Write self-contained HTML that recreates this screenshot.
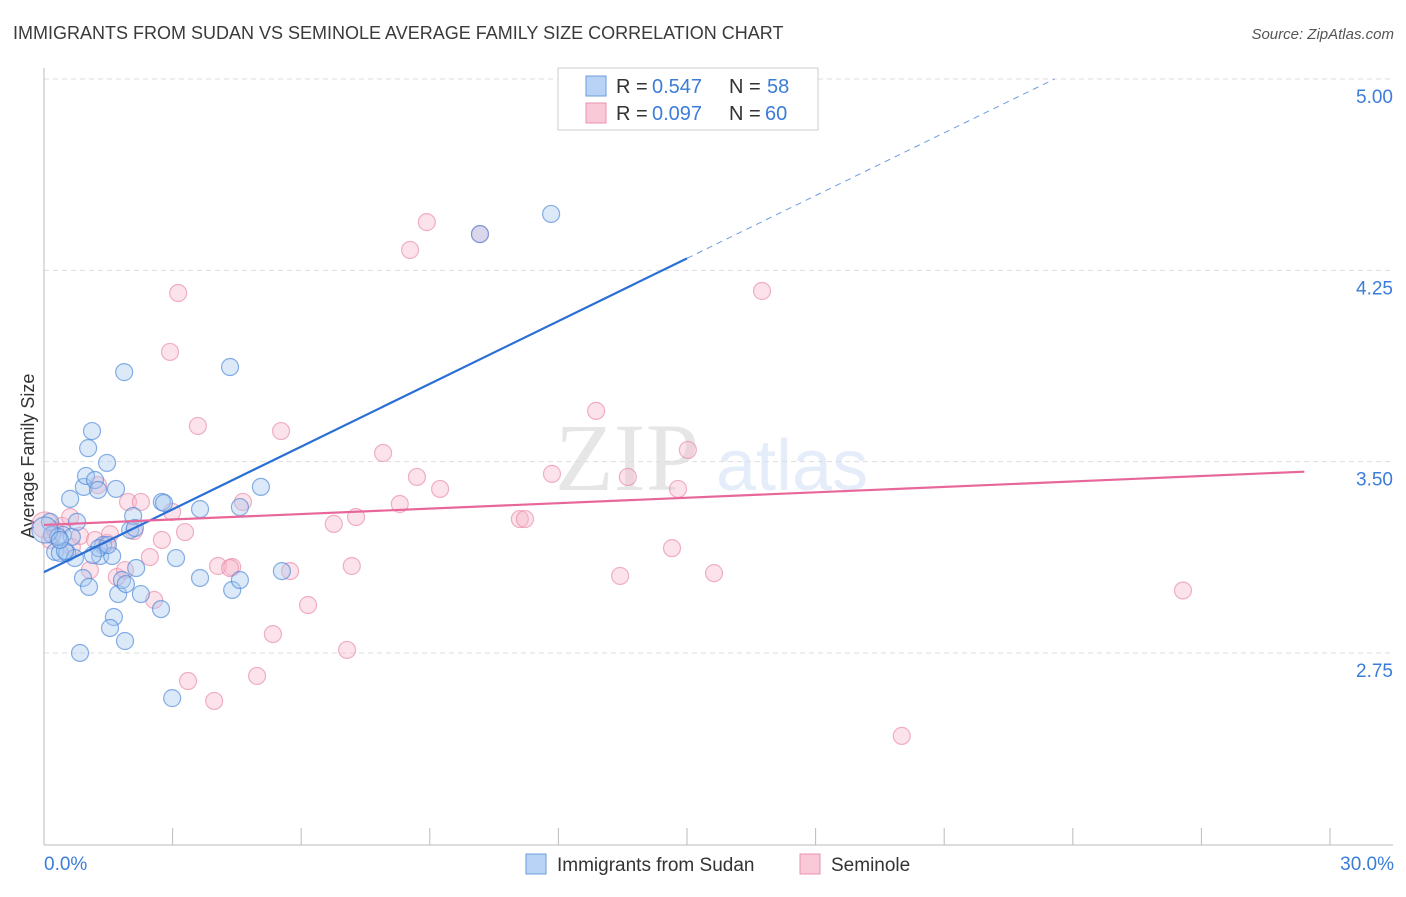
<!DOCTYPE html>
<html><head><meta charset="utf-8"><style>
body{margin:0;background:#fff;font-family:"Liberation Sans",sans-serif}
</style></head><body>
<svg id="chart" width="1406" height="892" xmlns="http://www.w3.org/2000/svg" font-family="Liberation Sans, sans-serif">
<text x="13" y="39" font-size="18" fill="#3a3a3a">IMMIGRANTS FROM SUDAN VS SEMINOLE AVERAGE FAMILY SIZE CORRELATION CHART</text>
<text x="1394" y="39" font-size="15" fill="#555" font-style="italic" text-anchor="end">Source: ZipAtlas.com</text>
<g opacity="0.13"><text x="555" y="490" font-size="96" font-family="Liberation Serif, serif" fill="#444">ZIP</text><text x="716" y="490" font-size="72" fill="#3b7dd8">atlas</text></g>
<g id="grid"></g><g id="axes"></g>
<text transform="translate(34,456) rotate(-90)" font-size="18" fill="#333" text-anchor="middle">Average Family Size</text>
<g id="marks"></g>
<g>
<rect x="558" y="68" width="260" height="62" fill="#fff" stroke="#ccc"/>
<rect x="586" y="76" width="20" height="20" fill="#b8d3f5" stroke="#6b9de0"/>
<rect x="586" y="103" width="20" height="20" fill="#f9c9d8" stroke="#e892ad"/>
<text x="616" y="93" font-size="20" fill="#333">R =</text><text x="652" y="93" font-size="20" fill="#3b7dd8">0.547</text>
<text x="729" y="93" font-size="20" fill="#333">N =</text><text x="767" y="93" font-size="20" fill="#3b7dd8">58</text>
<text x="616" y="120" font-size="20" fill="#333">R =</text><text x="652" y="120" font-size="20" fill="#3b7dd8">0.097</text>
<text x="729" y="120" font-size="20" fill="#333">N =</text><text x="765" y="120" font-size="20" fill="#3b7dd8">60</text>
</g>
<g>
<rect x="526" y="854" width="20" height="20" fill="#b8d3f5" stroke="#6b9de0"/>
<text x="557" y="871" font-size="19" fill="#333">Immigrants from Sudan</text>
<rect x="800" y="854" width="20" height="20" fill="#f9c9d8" stroke="#e892ad"/>
<text x="831" y="871" font-size="19" fill="#333">Seminole</text>
</g>
</svg>
<script>
const yTicks=[5.00,4.25,3.50,2.75];
const yTickLabels=["5.00","4.25","3.50","2.75"];
const xTickLabels=["0.0%","30.0%"];
const blueX=[0.14,0.19,0.26,0.37,0.44,0.54,0.61,0.65,0.72,0.77,0.84,0.91,0.93,0.98,1.03,1.05,1.12,1.19,1.26,1.31,1.38,1.47,1.59,1.63,1.54,1.68,1.73,1.82,1.87,1.89,1.91,2.01,2.08,2.15,2.26,2.73,2.75,2.80,3.08,2.99,3.64,3.64,4.34,4.39,4.57,4.57,5.06,5.55,10.17,11.83,1.28,0.49,0.33,2.12,1.49,0.02,1.14,0.37];
const blueY=[3.264,3.213,3.146,3.142,3.213,3.142,3.354,3.205,3.122,3.264,2.750,3.044,3.401,3.444,3.553,3.009,3.620,3.428,3.389,3.130,3.173,3.495,3.130,2.891,2.848,3.393,2.981,3.036,3.851,2.797,3.020,3.232,3.287,3.083,2.981,2.922,3.342,3.338,3.122,2.573,3.314,3.044,3.871,2.997,3.322,3.036,3.401,3.071,4.392,4.471,3.161,3.150,3.205,3.240,3.173,3.232,3.134,3.193];
const pinkX=[0.02,0.14,0.26,0.42,0.61,0.65,0.84,1.07,1.19,1.26,1.47,1.54,1.70,1.89,1.96,2.10,2.26,2.47,2.57,2.75,2.94,2.99,3.13,3.29,3.36,3.59,3.97,4.06,4.39,4.64,4.97,5.34,5.53,5.74,6.16,6.76,7.07,7.18,7.28,7.91,8.30,8.54,8.70,8.93,9.24,10.17,11.10,11.22,11.85,12.88,13.44,13.62,14.65,14.79,15.02,15.63,16.75,20.01,26.57,4.34];
const pinkY=[3.252,3.193,3.232,3.248,3.283,3.165,3.209,3.075,3.193,3.408,3.181,3.216,3.048,3.075,3.342,3.228,3.342,3.126,2.958,3.193,3.930,3.303,4.161,3.224,2.640,3.640,2.562,3.091,3.087,3.342,2.660,2.824,3.620,3.071,2.938,3.256,2.762,3.091,3.283,3.534,3.334,4.330,3.440,4.439,3.393,4.392,3.275,3.275,3.452,3.699,3.052,3.440,3.161,3.393,3.546,3.063,4.169,2.425,2.995,3.083];
const blueTrend=[3.067,0.082];
const pinkTrend=[3.252,0.0071];
const X=v=>44+v/30*1286, Y=v=>79+(5-v)*255.1;
const NS="http://www.w3.org/2000/svg";
function mk(p,t,a){const e=document.createElementNS(NS,t);for(const k in a)e.setAttribute(k,a[k]);p.appendChild(e);return e;}
const grid=document.getElementById('grid'),axes=document.getElementById('axes'),marks=document.getElementById('marks');
yTicks.forEach((v,i)=>{
 const l=mk(grid,'line',{x1:44,x2:1393,y1:Y(v),y2:Y(v),stroke:'#ddd','stroke-dasharray':'5,4'});
 
 
 const t=mk(axes,'text',{x:1393,y:Y(v)+24,'font-size':19,fill:'#3b7dd8','text-anchor':'end'});t.textContent=yTickLabels[i];
 
 
});
const ya=mk(axes,'line',{x1:44,x2:44,y1:68,y2:845,stroke:'#bbb'});


const xa=mk(axes,'line',{x1:44,x2:1393,y1:845,y2:845,stroke:'#bbb'});


for(let i=0;i<=10;i++){const tk=mk(axes,'line',{x1:X(i*3),x2:X(i*3),y1:828,y2:845,stroke:'#bbb'});
 
 }
[[0,'start',44],[30,'end',1394]].forEach((d,i)=>{const t=mk(axes,'text',{x:d[2],y:870,'font-size':19,fill:'#3b7dd8','text-anchor':d[1]});t.textContent=xTickLabels[i];
 
 });
function dots(xs,ys,fill,stroke,name){xs.forEach((x,i)=>{const c=mk(marks,'circle',{cx:X(x),cy:Y(ys[i]),r:(x<0.05?13:8.5),fill:fill,'fill-opacity':0.4,stroke:stroke,'stroke-opacity':0.65,'stroke-width':1.2});
 
 });}
dots(pinkX,pinkY,'#f7b6cb','#e88aa8','seminole-point');
dots(blueX,blueY,'#a8c8f0','#4a86d8','sudan-point');
const b1=mk(marks,'line',{x1:X(0),y1:Y(blueTrend[0]),x2:X(15),y2:Y(blueTrend[0]+blueTrend[1]*15),stroke:'#2a6fd6','stroke-width':2.2});


const x2=(5-blueTrend[0])/blueTrend[1];
const b2=mk(marks,'line',{x1:X(15),y1:Y(blueTrend[0]+blueTrend[1]*15),x2:X(x2),y2:Y(5),stroke:'#6b9de0','stroke-width':1,'stroke-dasharray':'6,5'});


const p1=mk(marks,'line',{x1:X(0),y1:Y(pinkTrend[0]),x2:X(29.4),y2:Y(pinkTrend[0]+pinkTrend[1]*29.4),stroke:'#e8679a','stroke-width':2.2});


</script>
</body></html>
